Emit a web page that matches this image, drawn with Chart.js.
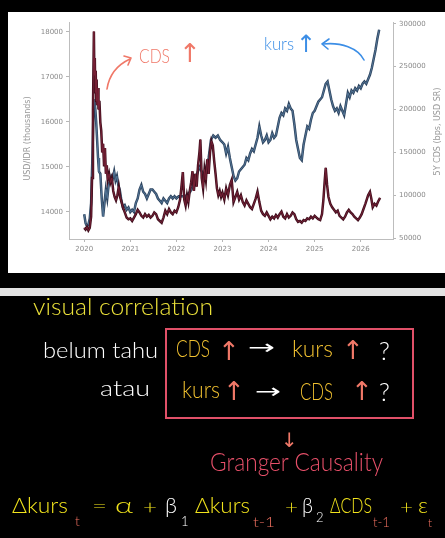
<!DOCTYPE html>
<html>
<head>
<meta charset="utf-8">
<script src="https://cdn.jsdelivr.net/npm/chart.js@4.4.1/dist/chart.umd.min.js"></script>
<style>
  html,body{margin:0;padding:0;background:#000;width:445px;height:538px;overflow:hidden;}
  #panel{position:absolute;left:8px;top:12px;width:437px;height:261px;background:#fff;}
  #bar{position:absolute;left:0;top:288px;width:445px;height:8px;background:#e2e2e2;}
  #ov{position:absolute;left:0;top:0;width:445px;height:538px;pointer-events:none;}
  canvas{filter:blur(0.45px);}
  .hw{font-family:Lato, "Open Sans", sans-serif;font-weight:300;}
</style>
</head>
<body>
<div id="panel"><canvas id="c"></canvas></div>
<div id="bar"></div>
<svg id="ov" width="445" height="538" viewBox="0 0 445 538" xmlns="http://www.w3.org/2000/svg">
  <!-- chart annotations -->
  <g fill="none" stroke-linecap="round" stroke-linejoin="round">
    <path d="M107,89 C109,76 117,65 130,59" stroke="#f07868" stroke-width="1.6"/>
    <path d="M124,56 L131,58 L128,65" stroke="#f07868" stroke-width="1.6"/>
    <path d="M364,60 C358,48 341,42 323,44" stroke="#3c8ee6" stroke-width="1.6"/>
    <path d="M329,39 L322,44 L328,49" stroke="#3c8ee6" stroke-width="1.6"/>
  </g>
  <g class="hw">
    <text x="139" y="63" font-size="19" fill="#f07868" textLength="31" lengthAdjust="spacingAndGlyphs">CDS</text>
    <text x="179" y="62" font-size="26" fill="#f07868" font-family="DejaVu Sans" font-weight="normal">↑</text>
    <text x="264" y="50" font-size="17" fill="#3c8ee6" textLength="30" lengthAdjust="spacingAndGlyphs">kurs</text>
    <text x="296" y="52" font-size="24" fill="#3c8ee6" font-family="DejaVu Sans" font-weight="normal">↑</text>
  </g>
  <!-- notes below -->
  <g class="hw">
    <text x="33" y="315" font-size="23" fill="#ece23a" textLength="180" lengthAdjust="spacingAndGlyphs">visual correlation</text>
    <text x="43" y="358" font-size="22" fill="#ffffff" textLength="115" lengthAdjust="spacingAndGlyphs">belum tahu</text>
    <text x="100" y="396" font-size="22" fill="#ffffff" textLength="50" lengthAdjust="spacingAndGlyphs">atau</text>
    <rect x="166" y="329" width="247" height="89" fill="none" stroke="#e05068" stroke-width="2"/>
    <text x="176" y="357" font-size="23" fill="#f0c030" textLength="34" lengthAdjust="spacingAndGlyphs">CDS</text>
    <text x="218" y="360" font-size="26" fill="#f07868" font-family="DejaVu Sans" font-weight="normal">↑</text>
    <text x="248" y="354" font-size="20" fill="#ffffff" font-family="DejaVu Sans" font-weight="normal" textLength="27" lengthAdjust="spacingAndGlyphs">→</text>
    <text x="292" y="357" font-size="23" fill="#f0c030" textLength="41" lengthAdjust="spacingAndGlyphs">kurs</text>
    <text x="342" y="359" font-size="26" fill="#f07868" font-family="DejaVu Sans" font-weight="normal">↑</text>
    <text x="379" y="360" font-size="25" fill="#ffffff">?</text>
    <text x="182" y="398" font-size="23" fill="#f0c030" textLength="38" lengthAdjust="spacingAndGlyphs">kurs</text>
    <text x="223" y="400" font-size="26" fill="#f07868" font-family="DejaVu Sans" font-weight="normal">↑</text>
    <text x="255" y="398" font-size="20" fill="#ffffff" font-family="DejaVu Sans" font-weight="normal" textLength="26" lengthAdjust="spacingAndGlyphs">→</text>
    <text x="300" y="400" font-size="23" fill="#f0c030" textLength="33" lengthAdjust="spacingAndGlyphs">CDS</text>
    <text x="351" y="400" font-size="26" fill="#f07868" font-family="DejaVu Sans" font-weight="normal">↑</text>
    <text x="379" y="401" font-size="25" fill="#ffffff">?</text>
    <text x="281" y="447" font-size="20" fill="#f07868" font-family="DejaVu Sans" font-weight="normal">↓</text>
    <text x="210" y="471" font-size="25" fill="#e8506a" textLength="173" lengthAdjust="spacingAndGlyphs">Granger Causality</text>
  </g>
  <g class="hw">
    <text x="12" y="513" font-size="21" fill="#f2e41c" textLength="56" lengthAdjust="spacingAndGlyphs">Δkurs</text>
    <text x="75" y="526" font-size="14" fill="#f07060">t</text>
    <text x="92" y="513" font-size="20" fill="#f2e41c" textLength="15" lengthAdjust="spacingAndGlyphs">=</text>
    <text x="115" y="513" font-size="22" fill="#f2e41c" textLength="18" lengthAdjust="spacingAndGlyphs">α</text>
    <text x="143" y="514" font-size="20" fill="#f2e41c" textLength="14" lengthAdjust="spacingAndGlyphs">+</text>
    <text x="165" y="513" font-size="21" fill="#ffffff" textLength="12" lengthAdjust="spacingAndGlyphs">β</text>
    <text x="181" y="526" font-size="13" fill="#ffffff">1</text>
    <text x="195" y="513" font-size="21" fill="#f2e41c" textLength="55" lengthAdjust="spacingAndGlyphs">Δkurs</text>
    <text x="253" y="527" font-size="13" fill="#f07060" textLength="22" lengthAdjust="spacingAndGlyphs">t-1</text>
    <text x="285" y="514" font-size="20" fill="#f2e41c" textLength="13" lengthAdjust="spacingAndGlyphs">+</text>
    <text x="302" y="513" font-size="21" fill="#ffffff" textLength="11" lengthAdjust="spacingAndGlyphs">β</text>
    <text x="316" y="522" font-size="13" fill="#ffffff">2</text>
    <text x="330" y="513" font-size="21" fill="#f2e41c" textLength="42" lengthAdjust="spacingAndGlyphs">ΔCDS</text>
    <text x="373" y="527" font-size="13" fill="#f07060" textLength="17" lengthAdjust="spacingAndGlyphs">t-1</text>
    <text x="400" y="514" font-size="20" fill="#f2e41c" textLength="13" lengthAdjust="spacingAndGlyphs">+</text>
    <text x="418" y="513" font-size="21" fill="#f2e41c" textLength="10" lengthAdjust="spacingAndGlyphs">ε</text>
    <text x="428" y="527" font-size="12" fill="#f07060">t</text>
  </g>
</svg>
<script>
// ---- data ----
const kursYears = [2020.00,2020.03,2020.06,2020.09,2020.12,2020.15,2020.18,2020.20,2020.22,2020.24,2020.26,2020.28,2020.30,2020.32,2020.35,2020.38,2020.41,2020.44,2020.47,2020.50,2020.53,2020.56,2020.59,2020.62,2020.65,2020.68,2020.71,2020.74,2020.77,2020.80,2020.84,2020.88,2020.92,2020.96,2021.00,2021.04,2021.08,2021.12,2021.16,2021.20,2021.24,2021.28,2021.32,2021.36,2021.40,2021.44,2021.48,2021.52,2021.56,2021.60,2021.64,2021.68,2021.72,2021.76,2021.80,2021.84,2021.88,2021.92,2021.96,2022.00,2022.05,2022.10,2022.15,2022.20,2022.25,2022.30,2022.35,2022.40,2022.45,2022.50,2022.55,2022.60,2022.65,2022.70,2022.75,2022.80,2022.85,2022.90,2022.95,2023.00,2023.04,2023.08,2023.12,2023.16,2023.20,2023.24,2023.28,2023.32,2023.36,2023.40,2023.44,2023.48,2023.52,2023.56,2023.60,2023.64,2023.68,2023.72,2023.76,2023.80,2023.84,2023.88,2023.92,2023.96,2024.00,2024.04,2024.08,2024.12,2024.16,2024.20,2024.24,2024.28,2024.32,2024.36,2024.40,2024.44,2024.48,2024.52,2024.56,2024.60,2024.64,2024.68,2024.72,2024.76,2024.80,2024.84,2024.88,2024.92,2024.96,2025.00,2025.04,2025.08,2025.12,2025.16,2025.20,2025.24,2025.28,2025.32,2025.36,2025.40,2025.44,2025.48,2025.52,2025.56,2025.60,2025.64,2025.68,2025.72,2025.76,2025.80,2025.84,2025.88,2025.92,2025.96,2026.00,2026.04,2026.08,2026.12,2026.16,2026.20,2026.24,2026.28,2026.32,2026.36,2026.40];
const kursValues = [13950,13750,13680,13720,13850,14200,15300,16200,16500,16300,16000,15600,15200,14900,14850,14300,13900,14200,14500,14300,14600,14700,14800,14750,14900,14700,14800,14600,14500,14300,14100,14150,14050,14100,14000,14050,14000,14200,14300,14500,14600,14450,14400,14300,14400,14500,14500,14450,14400,14300,14250,14200,14300,14250,14200,14300,14350,14300,14350,14300,14350,14350,14350,14350,14400,14450,14550,14700,14850,15000,14900,14800,15000,15200,15600,15700,15650,15700,15600,15550,15500,15300,15450,15200,15000,14800,14700,14750,14900,14950,15000,15050,15200,15150,15300,15400,15350,15500,15650,15900,15700,15550,15600,15700,15550,15600,15750,15650,15700,15900,16100,16200,16150,16300,16250,16400,16300,16250,15950,15600,15400,15200,15150,15500,15700,15900,15850,16050,16200,16250,16350,16450,16500,16550,16700,16850,16900,16700,16500,16350,16250,16300,16200,16350,16250,16150,16400,16650,16550,16700,16650,16750,16700,16800,16750,16850,16900,16850,16950,17050,17200,17400,17600,17850,18050];

const cdsYears = [2020.00,2020.03,2020.06,2020.09,2020.12,2020.15,2020.17,2020.19,2020.21,2020.22,2020.23,2020.24,2020.25,2020.26,2020.27,2020.28,2020.30,2020.31,2020.33,2020.35,2020.37,2020.39,2020.41,2020.43,2020.45,2020.47,2020.49,2020.51,2020.54,2020.57,2020.60,2020.63,2020.66,2020.69,2020.72,2020.75,2020.78,2020.81,2020.84,2020.88,2020.92,2020.96,2021.00,2021.04,2021.08,2021.12,2021.16,2021.20,2021.24,2021.28,2021.32,2021.36,2021.40,2021.44,2021.48,2021.52,2021.56,2021.60,2021.64,2021.68,2021.72,2021.76,2021.80,2021.84,2021.88,2021.92,2021.96,2022.00,2022.04,2022.08,2022.11,2022.14,2022.17,2022.20,2022.23,2022.26,2022.29,2022.32,2022.35,2022.38,2022.41,2022.44,2022.47,2022.50,2022.52,2022.55,2022.58,2022.61,2022.64,2022.67,2022.70,2022.73,2022.76,2022.79,2022.82,2022.85,2022.88,2022.91,2022.94,2022.97,2023.00,2023.04,2023.08,2023.12,2023.16,2023.20,2023.24,2023.28,2023.32,2023.36,2023.40,2023.44,2023.48,2023.52,2023.56,2023.60,2023.64,2023.68,2023.72,2023.76,2023.80,2023.84,2023.88,2023.92,2023.96,2024.00,2024.04,2024.08,2024.12,2024.16,2024.20,2024.24,2024.28,2024.32,2024.36,2024.40,2024.44,2024.48,2024.52,2024.56,2024.60,2024.64,2024.68,2024.72,2024.76,2024.80,2024.84,2024.88,2024.92,2024.96,2025.00,2025.04,2025.08,2025.12,2025.16,2025.19,2025.22,2025.24,2025.27,2025.30,2025.34,2025.38,2025.42,2025.46,2025.50,2025.54,2025.58,2025.62,2025.66,2025.70,2025.74,2025.78,2025.82,2025.86,2025.90,2025.94,2025.98,2026.02,2026.06,2026.10,2026.13,2026.16,2026.20,2026.23,2026.26,2026.30,2026.34,2026.38,2026.42];
const cdsValues = [62000,60000,63000,59000,62000,75000,120000,200000,291000,240000,260000,220000,245000,210000,235000,205000,225000,200000,210000,185000,175000,150000,160000,135000,155000,125000,135000,118000,125000,115000,120000,105000,98000,94000,100000,110000,98000,92000,86000,80000,74000,72000,73000,70000,74000,78000,83000,80000,76000,74000,78000,75000,77000,74000,76000,80000,78000,72000,70000,68000,74000,82000,78000,84000,80000,78000,82000,80000,86000,95000,110000,127000,95000,88000,100000,92000,105000,115000,128000,105000,125000,110000,135000,150000,165000,120000,108000,130000,118000,142000,125000,150000,163000,158000,140000,125000,108000,100000,105000,98000,103000,95000,108000,100000,112000,118000,92000,98000,104000,95000,100000,92000,88000,94000,90000,86000,84000,90000,96000,104000,92000,82000,78000,76000,80000,76000,72000,75000,73000,77000,74000,78000,81000,75000,73000,78000,74000,76000,80000,78000,72000,69000,70000,68000,71000,70000,73000,72000,75000,73000,76000,74000,72000,71000,78000,95000,118000,132000,112000,98000,90000,86000,83000,80000,82000,76000,74000,72000,75000,80000,83000,80000,78000,75000,73000,71000,74000,78000,84000,90000,95000,100000,104000,96000,86000,90000,88000,93000,97000];

const yearTicks = [2020,2021,2022,2023,2024,2025,2026];
const kursTicks = [14000,15000,16000,17000,18000];
const cdsTicks = [50000,100000,150000,200000,250000,300000];
const leftTitle = 'USD/IDR (thousands)';
const rightTitle = '5Y CDS (bps, USD SR)';

const kursPts = kursYears.map((x,i)=>({x:x,y:kursValues[i]}));
const cdsPts = cdsYears.map((x,i)=>({x:x,y:cdsValues[i]}));

const tickFont = {family:'DejaVu Sans', size:7};
const tickColor = '#8a8a8a';

const titlesPlugin = {
  id:'titles',
  afterDraw(chart){
    const ctx = chart.ctx, a = chart.chartArea;
    ctx.save();
    ctx.fillStyle = '#999999';
    ctx.font = '8px "DejaVu Sans"';
    ctx.textAlign = 'center';
    ctx.textBaseline = 'middle';
    ctx.translate(20, (a.top+a.bottom)/2 + 8);
    ctx.rotate(-Math.PI/2);
    ctx.fillText(leftTitle, 0, 0);
    ctx.restore();
    ctx.save();
    ctx.fillStyle = '#999999';
    ctx.font = '8px "DejaVu Sans"';
    ctx.textAlign = 'center';
    ctx.textBaseline = 'middle';
    ctx.translate(430, (a.top+a.bottom)/2 + 1);
    ctx.rotate(-Math.PI/2);
    ctx.fillText(rightTitle, 0, 0);
    ctx.restore();
  }
};

function gridOpts(){
  return {drawOnChartArea:false, drawTicks:true, tickLength:3, color:'#a5a5a5', lineWidth:0.8};
}

new Chart(document.getElementById('c'), {
  type:'line',
  data:{datasets:[
    {data:cdsPts, yAxisID:'y1', borderColor:'#7a2238', borderWidth:0.9, pointRadius:0, tension:0},
    {data:cdsPts, yAxisID:'y1', borderColor:'#3f0e1d', borderWidth:2.5, pointRadius:0, tension:0},
    {data:kursPts, yAxisID:'y', borderColor:'#56789a', borderWidth:0.9, pointRadius:0, tension:0},
    {data:kursPts, yAxisID:'y', borderColor:'#2e4560', borderWidth:2.5, pointRadius:0, tension:0}
  ]},
  options:{
    responsive:true, maintainAspectRatio:false, animation:false,
    layout:{padding:{top:10,left:0,right:0,bottom:0}},
    plugins:{legend:{display:false}, tooltip:{enabled:false}},
    scales:{
      x:{type:'linear', min:2019.67, max:2026.7,
         afterBuildTicks(s){ s.ticks = yearTicks.map(v=>({value:v})); },
         afterFit(s){ s.height = 34; },
         ticks:{font:tickFont, color:tickColor, padding:3, maxRotation:0, callback:v=>String(v)},
         grid:gridOpts(), border:{display:true, color:'#bdbdbd', width:1}},
      y:{position:'left', min:13400, max:18222,
         afterBuildTicks(s){ s.ticks = kursTicks.map(v=>({value:v})); },
         afterFit(s){ s.width = 61; },
         ticks:{font:tickFont, color:tickColor, padding:3, callback:v=>String(v)},
         grid:gridOpts(), border:{display:true, color:'#bdbdbd', width:1}},
      y1:{position:'right', min:49000, max:302000,
         afterBuildTicks(s){ s.ticks = cdsTicks.map(v=>({value:v})); },
         afterFit(s){ s.width = 52; },
         ticks:{font:tickFont, color:tickColor, padding:3, callback:v=>String(v)},
         grid:gridOpts(), border:{display:true, color:'#bdbdbd', width:1}}
    }
  },
  plugins:[titlesPlugin]
});
</script>
</body>
</html>
